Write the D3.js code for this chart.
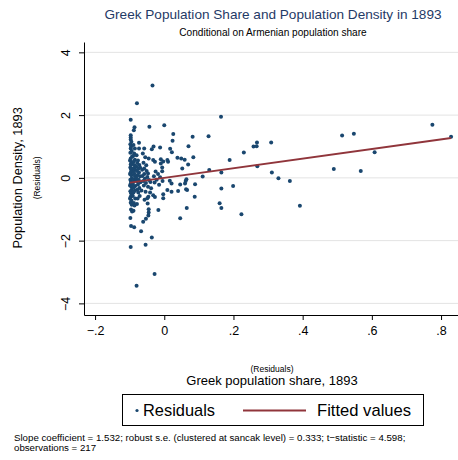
<!DOCTYPE html>
<html>
<head>
<meta charset="utf-8">
<script src="https://cdn.jsdelivr.net/npm/d3@7"></script>
<style>
  html, body { margin: 0; padding: 0; background: #fff; }
  svg { display: block; font-family: "Liberation Sans", Arial, Helvetica, sans-serif; }
</style>
</head>
<body>
<svg id="chart" width="458" height="460"></svg>
<script>
// Residualised Greek population share (x) against residualised population density (y)
const residX = [
  -0.034,-0.079,-0.097,-0.086,-0.088,-0.043,0.000,0.026,0.082,0.128,
  -0.097,-0.097,0.024,-0.073,0.070,-0.097,-0.085,-0.073,-0.058,-0.031,
  -0.036,-0.012,0.017,0.022,0.084,-0.045,-0.032,-0.010,-0.003,0.011,
  0.038,0.049,0.059,0.052,0.069,-0.006,-0.006,0.130,0.111,0.064,
  0.062,0.164,0.258,0.267,0.268,0.309,0.230,0.189,0.269,0.165,
  0.311,0.330,0.363,0.165,0.199,0.160,0.165,0.223,0.392,0.490,
  0.514,0.548,0.568,0.608,0.775,0.829,-0.097,-0.054,-0.036,-0.067,
  -0.096,-0.087,-0.061,-0.053,-0.046,-0.017,0.046,0.065,0.088,0.089,
  -0.028,-0.080,0.063,0.066,0.040,0.021,0.009,-0.003,-0.003,-0.027,
  -0.032,-0.046,-0.049,-0.048,-0.045,-0.045,0.046,0.060,0.016,0.021,
  -0.070,-0.064,-0.058,-0.051,-0.047,-0.027,0.009,-0.010,
  // dense column of small-share districts
  -0.097,-0.095,-0.098,-0.096,-0.094,-0.098,-0.093,-0.097,-0.099,-0.095,
  -0.097,-0.098,-0.096,-0.093,-0.097,-0.099,-0.095,-0.094,-0.098,-0.096,
  -0.093,-0.097,-0.099,-0.095,-0.094,-0.098,-0.096,-0.093,-0.097,-0.099,
  -0.095,-0.097,-0.094,-0.096,-0.093,-0.098,
  -0.089,-0.087,-0.090,-0.085,-0.088,-0.091,-0.086,-0.089,-0.084,-0.090,
  -0.087,-0.085,-0.088,-0.083,-0.089,-0.091,-0.084,-0.088,-0.085,-0.089,
  -0.091,-0.084,-0.088,-0.086,-0.089,
  -0.080,-0.076,-0.078,-0.072,-0.081,-0.075,-0.079,-0.073,-0.077,-0.070,
  -0.081,-0.074,-0.078,-0.069,-0.076,-0.072,-0.078,-0.066,-0.075,-0.071,
  -0.077,-0.079,
  -0.062,-0.055,-0.060,-0.052,-0.058,-0.063,-0.049,-0.056,-0.061,-0.044,
  -0.053,-0.040,-0.059,-0.047,-0.038,-0.054,-0.041,-0.057,
  -0.025,-0.018,-0.030,-0.012,-0.022,-0.005,-0.028,-0.015
];
const residY = [
  2.94,2.38,1.85,1.61,1.52,1.63,1.68,1.40,1.31,1.33,
  1.36,1.29,1.18,1.12,1.01,0.94,0.94,0.94,0.94,1.00,
  0.91,0.97,0.93,0.82,0.66,0.62,0.57,0.59,0.52,0.51,
  0.64,0.62,0.58,0.30,0.43,0.33,0.21,0.25,0.04,-0.04,
  -0.10,1.95,1.00,1.01,1.13,1.13,0.81,0.57,0.37,0.17,
  0.17,-0.01,-0.10,-0.34,-0.26,-0.81,-0.96,-1.16,-0.89,0.28,
  1.35,1.41,0.22,0.82,1.69,1.31,-2.20,-2.13,-1.90,-1.70,
  -1.53,-1.57,-1.40,-1.30,-1.20,-1.02,-1.29,-0.96,-0.60,-0.20,
  -3.06,-3.44,-0.36,-0.39,-0.42,-0.44,-0.39,-0.52,-0.65,-0.61,
  -0.55,-0.60,-0.65,-0.82,-1.10,-1.00,-0.21,-0.18,-0.09,-0.18,
  0.33,0.26,0.30,0.22,0.14,0.51,0.57,0.46,
  1.22,1.15,1.07,0.99,0.86,0.80,0.68,0.62,0.55,0.49,
  0.43,0.33,0.27,0.22,0.17,0.12,0.08,-0.02,-0.06,-0.11,
  -0.15,-0.19,-0.24,-0.28,-0.38,-0.43,-0.49,-0.55,-0.60,-0.66,
  -0.72,-0.79,-0.86,-1.01,-1.07,-1.28,
  1.05,0.78,0.70,0.58,0.52,0.44,0.40,0.31,0.26,0.19,
  0.14,0.06,-0.04,-0.08,-0.13,-0.22,-0.26,-0.31,-0.41,-0.47,
  -0.58,-0.66,-0.80,-0.88,-1.05,
  0.72,0.55,0.47,0.41,0.36,0.29,0.22,0.17,0.09,0.05,
  0.00,-0.06,-0.11,-0.14,-0.21,-0.32,-0.38,-0.40,-0.47,-0.58,
  -0.66,-0.83,
  0.78,0.66,0.48,0.40,0.12,0.06,0.03,-0.03,-0.10,-0.07,
  -0.16,-0.13,-0.24,-0.28,-0.33,-0.44,-0.47,-0.70,
  0.20,0.12,0.05,0.02,-0.06,-0.10,-0.15,-0.22
];

// Regression results reported under the chart
const slopeCoef = 1.532;
const fitIntercept = 0;
const robustSE = 0.333;
const tStat = 4.598;

const xTicks = [-0.2, 0, 0.2, 0.4, 0.6, 0.8];
const yTicks = [-4, -2, 0, 2, 4];

const titleText = "Greek Population Share and Population Density in 1893";
const subtitleText = "Conditional on Armenian population share";
const yTitleText = "Population Density, 1893";
const xTitleText = "Greek population share, 1893";
const residText = "(Residuals)";
const legendLabels = ["Residuals", "Fitted values"];

const nObs = Math.min(residX.length, residY.length);
const points = d3.range(nObs).map(i => ({x: residX[i], y: residY[i]}));

const navy = "#1a476f";
const maroon = "#90353b";

const svg = d3.select("#chart");

const x = d3.scaleLinear().domain([-0.232, 0.849]).range([84, 458]);
const y = d3.scaleLinear().domain([-4.37, 4.33]).range([315, 42]);

const minus = s => s.replace("-", "\u2212");
const fmtX = d => d === 0 ? "0" : minus(d3.format(".1f")(d)).replace("0.", ".");
const fmtY = d => minus(String(d));

// horizontal grid lines
svg.append("g")
  .selectAll("line")
  .data(yTicks)
  .join("line")
  .attr("x1", x.range()[0]).attr("x2", x.range()[1])
  .attr("y1", d => y(d)).attr("y2", d => y(d))
  .attr("stroke", "#e3e3e3").attr("stroke-width", 1);

// y axis, labels turned to read upwards
const yAxis = svg.append("g")
  .attr("transform", `translate(${x.range()[0]},0)`)
  .call(d3.axisLeft(y).tickValues(yTicks).tickSize(5).tickSizeOuter(0).tickFormat(fmtY));
yAxis.selectAll("text")
  .attr("x", 0).attr("y", 0).attr("dy", "0.35em")
  .attr("transform", "translate(-18,0) rotate(-90)")
  .attr("text-anchor", "middle")
  .style("font-size", "12.5px").attr("fill", "#000");

// x axis
const xAxis = svg.append("g")
  .attr("transform", `translate(0,${y.range()[0]})`)
  .call(d3.axisBottom(x).tickValues(xTicks).tickSize(5).tickSizeOuter(0).tickFormat(fmtX));
xAxis.selectAll("text").style("font-size", "12.5px").attr("y", 11).attr("fill", "#000");

svg.selectAll(".domain").attr("stroke", "#000").attr("stroke-width", 1);
svg.selectAll(".tick line").attr("stroke", "#000");

// scatter of residuals
svg.append("g")
  .selectAll("circle")
  .data(points)
  .join("circle")
  .attr("cx", d => x(d.x))
  .attr("cy", d => y(d.y))
  .attr("r", 2)
  .attr("fill", navy);

// fitted line over the range of x
const xExt = d3.extent(points, d => d.x);
const fit = xExt.map(v => ({x: v, y: fitIntercept + slopeCoef * v}));
svg.append("path")
  .datum(fit)
  .attr("d", d3.line().x(d => x(d.x)).y(d => y(d.y)))
  .attr("stroke", maroon).attr("stroke-width", 2).attr("fill", "none");

// titles
const cx = (x.range()[0] + x.range()[1]) / 2 + 2;
svg.append("text").attr("x", cx).attr("y", 19).attr("text-anchor", "middle")
  .style("font-size", "13.6px").attr("fill", "#1f3a66").text(titleText);
svg.append("text").attr("x", cx).attr("y", 35.5).attr("text-anchor", "middle")
  .style("font-size", "10.1px").attr("fill", "#000").text(subtitleText);

// axis titles
const yMid = y(0);
svg.append("text").attr("transform", `translate(22,${yMid}) rotate(-90)`)
  .attr("text-anchor", "middle").style("font-size", "12.8px").attr("fill", "#000").text(yTitleText);
svg.append("text").attr("transform", `translate(40,${yMid}) rotate(-90)`)
  .attr("text-anchor", "middle").style("font-size", "8.5px").attr("fill", "#000").text(residText);
svg.append("text").attr("x", cx - 1).attr("y", 371.5).attr("text-anchor", "middle")
  .style("font-size", "8.5px").attr("fill", "#000").text(residText);
svg.append("text").attr("x", cx - 1).attr("y", 384.5).attr("text-anchor", "middle")
  .style("font-size", "13px").attr("fill", "#000").text(xTitleText);

// legend
const lg = svg.append("g");
lg.append("rect").attr("x", 122.5).attr("y", 394.5).attr("width", 301).attr("height", 31)
  .attr("fill", "#fff").attr("stroke", "#000").attr("stroke-width", 1);
lg.append("circle").attr("cx", 137).attr("cy", 410.5).attr("r", 1.6).attr("fill", navy);
lg.append("text").attr("x", 143).attr("y", 416).style("font-size", "16.4px").attr("fill", "#000").text(legendLabels[0]);
lg.append("line").attr("x1", 243).attr("x2", 306).attr("y1", 410.5).attr("y2", 410.5)
  .attr("stroke", maroon).attr("stroke-width", 2);
lg.append("text").attr("x", 317).attr("y", 416).style("font-size", "16.6px").attr("fill", "#000").text(legendLabels[1]);

// footnote with regression summary
const note1 = `Slope coefficient = ${slopeCoef.toFixed(3)}; robust s.e. (clustered at sancak level) = ${robustSE.toFixed(3)}; t\u2212statistic = ${tStat.toFixed(3)};`;
const note2 = `observations = ${nObs}`;
svg.append("text").attr("x", 14).attr("y", 441).style("font-size", "9.7px").attr("fill", "#000").text(note1);
svg.append("text").attr("x", 14).attr("y", 451).style("font-size", "9.7px").attr("fill", "#000").text(note2);
</script>
</body>
</html>
